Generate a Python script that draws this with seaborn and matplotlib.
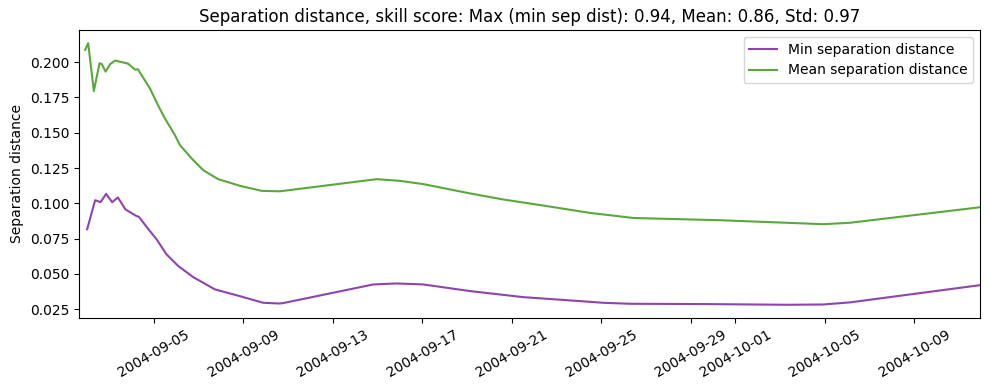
import matplotlib
matplotlib.use("Agg")
import matplotlib.pyplot as plt
import matplotlib.dates as mdates
import numpy as np
import pandas as pd
import seaborn as sns

# hours after 2004-09-01 00:00
t0 = pd.Timestamp("2004-09-01")

min_hours = [24.4, 33.0, 38.8, 44.8, 51.2, 57.4, 65.6, 77.0, 79.9, 89.6,
             98.9, 109.6, 122.1, 138.2, 161.5, 188.3, 213.3, 231.2, 234.8,
             331.4, 356.5, 385.0, 435.2, 492.4, 542.5, 578.2, 606.9, 685.6,
             775.1, 814.3, 843.0, 982.5]
min_sep = [0.0816, 0.1022, 0.1008, 0.1067, 0.1008, 0.1041, 0.0956, 0.0911,
           0.0904, 0.0821, 0.0745, 0.0638, 0.0556, 0.0477, 0.0390, 0.0342,
           0.0295, 0.0290, 0.0293, 0.0425, 0.0432, 0.0425, 0.0378, 0.0335,
           0.0312, 0.0295, 0.0288, 0.0286, 0.0281, 0.0283, 0.0298, 0.0420]

mean_hours = [22.3, 25.5, 31.6, 37.7, 40.2, 44.2, 49.1, 54.5, 68.1, 75.9,
              78.8, 91.7, 100.3, 107.8, 118.5, 123.9, 136.5, 148.9, 165.0,
              188.3, 211.6, 231.2, 335.0, 360.0, 385.0, 435.2, 470.9, 513.8,
              563.9, 610.4, 703.5, 814.3, 843.0, 982.5]
mean_sep = [0.2087, 0.2135, 0.1795, 0.1993, 0.1986, 0.1933, 0.1986, 0.2011,
            0.1990, 0.1947, 0.1950, 0.1815, 0.1697, 0.1602, 0.1484, 0.1413,
            0.1318, 0.1235, 0.1171, 0.1124, 0.1088, 0.1085, 0.1171, 0.1159,
            0.1136, 0.1070, 0.1027, 0.0984, 0.0932, 0.0896, 0.0880, 0.0852,
            0.0862, 0.0972]

labels = ["Min separation distance", "Mean separation distance"]
colors = ["#8e44ad", "#5aa83c"]

df = pd.concat([
    pd.DataFrame({"time": t0 + pd.to_timedelta(min_hours, unit="h"),
                  "dist": min_sep, "series": labels[0]}),
    pd.DataFrame({"time": t0 + pd.to_timedelta(mean_hours, unit="h"),
                  "dist": mean_sep, "series": labels[1]}),
], ignore_index=True)

fig, ax = plt.subplots(figsize=(9.89, 3.9), dpi=100)
sns.lineplot(data=df, x="time", y="dist", hue="series", hue_order=labels,
             palette=colors, linewidth=1.5, ax=ax, sort=False)

ax.set_xlim(t0 + pd.Timedelta(hours=15.8), t0 + pd.Timedelta(hours=982.5))
ax.xaxis.set_major_locator(mdates.DayLocator(bymonthday=range(1, 32, 4)))
ax.xaxis.set_major_formatter(mdates.DateFormatter("%Y-%m-%d"))
plt.setp(ax.get_xticklabels(), rotation=30)

ax.set_xlabel("")
ax.set_ylabel("Separation distance")
ax.set_title("Separation distance, skill score: Max (min sep dist): 0.94, "
             "Mean: 0.86, Std: 0.97")
ax.legend(loc="upper right")

fig.subplots_adjust(left=0.080, right=0.991, top=0.923, bottom=0.185)
plt.savefig("out.png", dpi=100)
plt.close()
